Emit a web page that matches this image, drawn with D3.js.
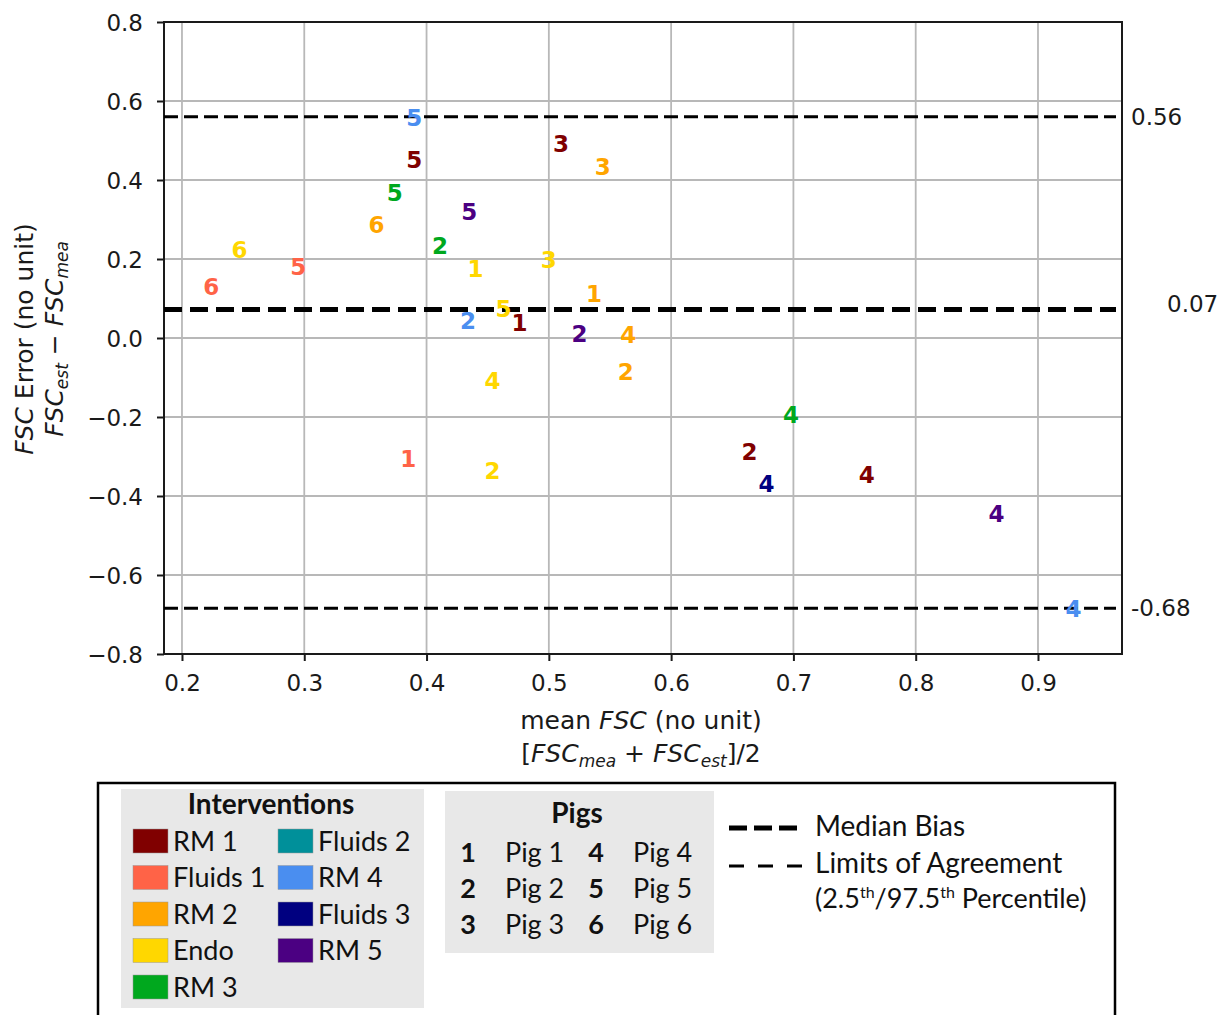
<!DOCTYPE html>
<html>
<head>
<meta charset="utf-8">
<script src="https://cdn.jsdelivr.net/npm/d3@7"></script>
<style>
  body { margin: 0; background: #fff; }
  svg { display: block; }
</style>
</head>
<body>
<div id="chart"></div>
<script>
// ---- DATA ----
const interventions = ["RM 1", "Fluids 1", "RM 2", "Endo", "RM 3", "Fluids 2", "RM 4", "Fluids 3", "RM 5"];
const interventionColors = ["#800000", "#ff6347", "#ffa500", "#ffd700", "#00a81e", "#00909a", "#4a8ef0", "#000080", "#4b0082"];
const pigIds = [1, 2, 3, 4, 5, 6];

// one entry per measurement: intervention, pig, mean FSC, FSC error
const pointIntervention = ["RM 4", "RM 1", "RM 3", "RM 2", "Endo", "Fluids 1", "Fluids 1", "RM 1", "RM 2", "RM 5",
                           "RM 3", "Endo", "Endo", "RM 2", "Endo", "RM 4", "RM 1", "RM 5", "RM 2", "Endo",
                           "RM 2", "RM 3", "RM 1", "Fluids 3", "Fluids 1", "Endo", "RM 1", "RM 5", "RM 4"];
const pointPig = [5, 5, 5, 6, 6, 5, 6, 3, 3, 5,
                  2, 1, 3, 1, 5, 2, 1, 2, 4, 4,
                  2, 4, 2, 4, 1, 2, 4, 4, 4];
const meanFsc = [0.390, 0.390, 0.374, 0.359, 0.247, 0.295, 0.224, 0.510, 0.544, 0.435,
                 0.411, 0.440, 0.500, 0.537, 0.463, 0.434, 0.476, 0.525, 0.565, 0.454,
                 0.563, 0.698, 0.664, 0.678, 0.385, 0.454, 0.760, 0.866, 0.929];
const fscError = [0.557, 0.451, 0.368, 0.286, 0.223, 0.181, 0.130, 0.493, 0.434, 0.319,
                  0.234, 0.176, 0.199, 0.113, 0.073, 0.043, 0.039, 0.012, 0.008, -0.108,
                  -0.085, -0.195, -0.289, -0.368, -0.306, -0.336, -0.347, -0.446, -0.686];

const refNames = ["upper", "median", "lower"];
const refValues = [0.56, 0.072, -0.684];
const refLabels = ["0.56", "0.07", "-0.68"];

const xTicks = [0.2, 0.3, 0.4, 0.5, 0.6, 0.7, 0.8, 0.9];
const yTicks = [-0.8, -0.6, -0.4, -0.2, 0.0, 0.2, 0.4, 0.6, 0.8];

// ---- CHART ----
const W = 1226, H = 1015;
const margin = { top: 22, right: 104, bottom: 361, left: 164 };
const w = W - margin.left - margin.right;
const h = H - margin.top - margin.bottom;
const axisFont = "DejaVu Sans, sans-serif";
const legendFont = "Lato, 'Open Sans', sans-serif";
const ink = "#1a1a1a";

const svg = d3.select("#chart").append("svg")
    .attr("width", W)
    .attr("height", H);

const g = svg.append("g")
    .attr("transform", `translate(${margin.left},${margin.top})`);

const x = d3.scaleLinear().domain([0.1853, 0.9687]).range([0, w]);
const y = d3.scaleLinear().domain([-0.8, 0.8]).range([h, 0]);

// grid
g.append("g").selectAll("line")
    .data(xTicks).enter().append("line")
    .attr("x1", d => x(d)).attr("x2", d => x(d))
    .attr("y1", 0).attr("y2", h)
    .attr("stroke", "#b8b8b8").attr("stroke-width", 1.8);
g.append("g").selectAll("line")
    .data(yTicks).enter().append("line")
    .attr("x1", 0).attr("x2", w)
    .attr("y1", d => y(d)).attr("y2", d => y(d))
    .attr("stroke", "#b8b8b8").attr("stroke-width", 1.8);

// axes
const fmt = d => (d < 0 ? "\u2212" : "") + Math.abs(d).toFixed(1);
const xAxis = g.append("g").attr("transform", `translate(0,${h})`)
    .call(d3.axisBottom(x).tickValues(xTicks).tickFormat(d => d.toFixed(1)).tickSize(7).tickPadding(14));
const yAxis = g.append("g")
    .call(d3.axisLeft(y).tickValues(yTicks).tickFormat(fmt).tickSize(7).tickPadding(14));
[xAxis, yAxis].forEach(a => {
    a.select(".domain").remove();
    a.selectAll("line").attr("stroke", ink).attr("stroke-width", 2);
    a.selectAll("text").attr("font-family", axisFont).attr("font-size", 23).attr("fill", ink);
});
yAxis.selectAll("text").attr("dy", "0.36em");

// frame
g.append("rect")
    .attr("width", w).attr("height", h)
    .attr("fill", "none").attr("stroke", ink).attr("stroke-width", 2);

// reference lines
refNames.forEach((name, i) => {
    const isMedian = name === "median";
    g.append("line")
        .attr("x1", 0).attr("x2", w - 6)
        .attr("y1", y(refValues[i])).attr("y2", y(refValues[i]))
        .attr("stroke", "#000")
        .attr("stroke-width", isMedian ? 5 : 3)
        .attr("stroke-dasharray", isMedian ? "18 8" : "14 6");
    svg.append("text")
        .attr("x", margin.left + w + (isMedian ? 45 : 9))
        .attr("y", margin.top + y(refValues[i]) + (isMedian ? -6 : 0))
        .attr("dy", "0.36em")
        .attr("font-family", axisFont).attr("font-size", 23).attr("fill", ink)
        .text(refLabels[i]);
});

// points as pig numbers
const colorOf = d3.scaleOrdinal().domain(interventions).range(interventionColors);
g.selectAll(".pt")
    .data(d3.range(meanFsc.length)).enter().append("text")
    .attr("class", "pt")
    .attr("x", i => x(meanFsc[i]))
    .attr("y", i => y(fscError[i]))
    .attr("dy", "0.36em")
    .attr("text-anchor", "middle")
    .attr("font-family", axisFont).attr("font-weight", "bold").attr("font-size", 23)
    .attr("fill", i => colorOf(pointIntervention[i]))
    .text(i => pointPig[i]);

// axis titles
const yl = svg.append("text")
    .attr("transform", "translate(33,339) rotate(-90)")
    .attr("text-anchor", "middle")
    .attr("font-family", axisFont).attr("font-size", 25).attr("fill", ink);
yl.append("tspan").attr("font-style", "italic").text("FSC");
yl.append("tspan").text(" Error (no unit)");

const yl2 = svg.append("text")
    .attr("transform", "translate(63,339) rotate(-90)")
    .attr("text-anchor", "middle")
    .attr("font-family", axisFont).attr("font-size", 25).attr("fill", ink)
    .attr("font-style", "italic");
yl2.append("tspan").text("FSC");
yl2.append("tspan").attr("font-size", 17).attr("dy", 5).text("est");
yl2.append("tspan").attr("dy", -5).attr("font-style", "normal").text(" \u2212 ");
yl2.append("tspan").text("FSC");
yl2.append("tspan").attr("font-size", 17).attr("dy", 5).text("mea");

const xl = svg.append("text")
    .attr("x", margin.left + w / 2 - 2).attr("y", 729)
    .attr("text-anchor", "middle")
    .attr("font-family", axisFont).attr("font-size", 25).attr("fill", ink);
xl.append("tspan").text("mean ");
xl.append("tspan").attr("font-style", "italic").text("FSC");
xl.append("tspan").text(" (no unit)");

const xl2 = svg.append("text")
    .attr("x", margin.left + w / 2 - 2).attr("y", 762)
    .attr("text-anchor", "middle")
    .attr("font-family", axisFont).attr("font-size", 25).attr("fill", ink);
xl2.append("tspan").text("[");
xl2.append("tspan").attr("font-style", "italic").text("FSC");
xl2.append("tspan").attr("font-style", "italic").attr("font-size", 17).attr("dy", 5).text("mea");
xl2.append("tspan").attr("dy", -5).text(" + ");
xl2.append("tspan").attr("font-style", "italic").text("FSC");
xl2.append("tspan").attr("font-style", "italic").attr("font-size", 17).attr("dy", 5).text("est");
xl2.append("tspan").attr("dy", -5).text("]/2");

// ---- LEGEND ----
const lg = svg.append("g");
lg.append("rect")
    .attr("x", 98).attr("y", 783).attr("width", 1017).attr("height", 250)
    .attr("fill", "#fff").attr("stroke", "#000").attr("stroke-width", 2.5);

// interventions panel
lg.append("rect").attr("x", 121).attr("y", 789).attr("width", 303).attr("height", 219).attr("fill", "#e8e8e8");
lg.append("text").attr("x", 271).attr("y", 814).attr("text-anchor", "middle")
    .attr("font-family", legendFont).attr("font-weight", "bold").attr("font-size", 28).attr("fill", "#111")
    .text("Interventions");
interventions.forEach((name, i) => {
    const col = i < 5 ? 0 : 1;
    const row = i < 5 ? i : i - 5;
    const sx = col === 0 ? 133 : 278;
    const cy = 841 + row * 36.5;
    lg.append("rect").attr("x", sx).attr("y", cy - 12).attr("width", 35).attr("height", 24)
        .attr("fill", interventionColors[i]).attr("stroke", "#999").attr("stroke-width", 0.5);
    lg.append("text").attr("x", sx + 40).attr("y", cy).attr("dy", "0.36em")
        .attr("font-family", legendFont).attr("font-size", 27).attr("fill", "#111")
        .text(name);
});

// pigs panel
lg.append("rect").attr("x", 445).attr("y", 791).attr("width", 269).attr("height", 162).attr("fill", "#e8e8e8");
lg.append("text").attr("x", 577).attr("y", 823).attr("text-anchor", "middle")
    .attr("font-family", legendFont).attr("font-weight", "bold").attr("font-size", 28).attr("fill", "#111")
    .text("Pigs");
pigIds.forEach((p, i) => {
    const col = i < 3 ? 0 : 1;
    const row = i % 3;
    const nx = col === 0 ? 468 : 596;
    const cy = 852 + row * 36;
    lg.append("text").attr("x", nx).attr("y", cy).attr("dy", "0.36em").attr("text-anchor", "middle")
        .attr("font-family", legendFont).attr("font-weight", "bold").attr("font-size", 27).attr("fill", "#111")
        .text(p);
    lg.append("text").attr("x", nx + 37).attr("y", cy).attr("dy", "0.36em")
        .attr("font-family", legendFont).attr("font-size", 27).attr("fill", "#111")
        .text("Pig " + p);
});

// line styles
lg.append("line").attr("x1", 729).attr("x2", 797).attr("y1", 828).attr("y2", 828)
    .attr("stroke", "#000").attr("stroke-width", 5).attr("stroke-dasharray", "18 7");
lg.append("line").attr("x1", 729).attr("x2", 802).attr("y1", 866).attr("y2", 866)
    .attr("stroke", "#000").attr("stroke-width", 3).attr("stroke-dasharray", "15 14");
lg.append("text").attr("x", 815).attr("y", 826).attr("dy", "0.36em")
    .attr("font-family", legendFont).attr("font-size", 28).attr("fill", "#111").text("Median Bias");
lg.append("text").attr("x", 815).attr("y", 863).attr("dy", "0.36em")
    .attr("font-family", legendFont).attr("font-size", 28).attr("fill", "#111").text("Limits of Agreement");
const pc = lg.append("text").attr("x", 815).attr("y", 898).attr("dy", "0.36em")
    .attr("font-family", legendFont).attr("font-size", 27).attr("fill", "#111");
pc.append("tspan").text("(2.5");
pc.append("tspan").attr("font-size", 16).attr("dy", -10).text("th");
pc.append("tspan").attr("dy", 10).text("/97.5");
pc.append("tspan").attr("font-size", 16).attr("dy", -10).text("th");
pc.append("tspan").attr("dy", 10).text(" Percentile)");
</script>
</body>
</html>
